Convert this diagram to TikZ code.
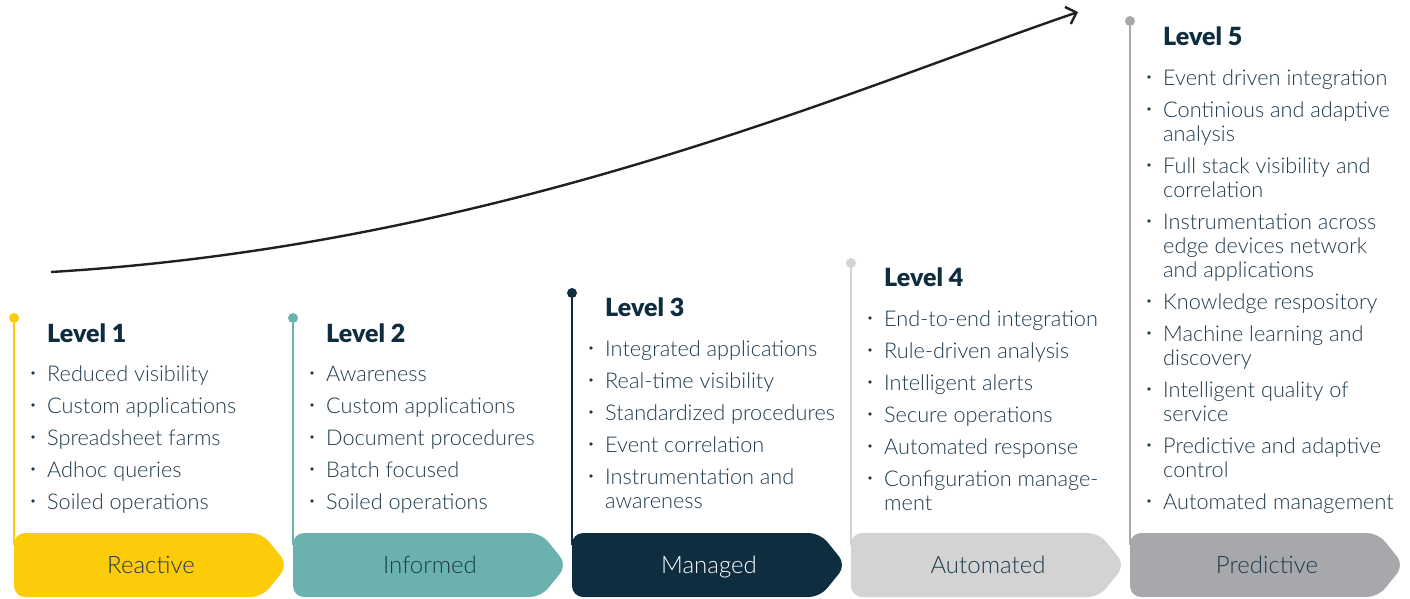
\documentclass[tikz,border=0pt]{standalone}
\usepackage{fontspec}
\setmainfont{Lato Light}[BoldFont=Lato Black]
\usetikzlibrary{arrows.meta}

\definecolor{lvA}{HTML}{FCCB0A}
\definecolor{lvB}{HTML}{6BB1AE}
\definecolor{lvC}{HTML}{0E2D3F}
\definecolor{lvD}{HTML}{D3D3D3}
\definecolor{lvE}{HTML}{A7A8AB}
\definecolor{ink}{HTML}{1E3A4C}
\definecolor{headink}{HTML}{0E2D3F}
\definecolor{arrowink}{HTML}{231F20}

\tikzset{
  itemtext/.style={anchor=base west, inner sep=0pt, text=ink,
    font=\fontsize{21.7}{24}\selectfont},
  headtext/.style={anchor=base west, inner sep=0pt, text=headink,
    font=\fontsize{25}{28}\selectfont\bfseries},
  stagelabel/.style={anchor=base, inner sep=0pt,
    font=\fontsize{24}{28}\selectfont},
  bulletdot/.style={circle, fill=ink, inner sep=0pt, minimum size=3.8pt},
  stem/.style={line width=2pt},
  stemdot/.style={circle, inner sep=0pt, minimum size=10pt},
  growth/.style={line width=2.4pt, draw=arrowink,
    -{Straight Barb[length=9pt,width=18pt]}},
}

% one maturity stage: stem with dot, arrow-shaped tab with its label
% #1 name, #2 left x, #3 dot y, #4 colour, #5 label colour, #6 label
\newcommand\stagetab[6]{%
  \node[stemdot, fill=#4] (#1-dot) at (#2,#3) {};
  \coordinate (#1-foot) at (#2,545);
  \draw[stem, draw=#4] (#1-dot) -- (#1-foot);
  \fill[#4, rounded corners=11pt] (#2,533) -- (#2+248,533) -- (#2+274,565)
    -- (#2+248,597) -- (#2,597) -- cycle;
  \node[stagelabel, text=#5] (#1-tab) at (#2+137,573) {#6};
}

\begin{document}
\begin{tikzpicture}[x=1pt, y=-1pt]
\useasboundingbox (0,0) rectangle (1410,598);

% rising curve over the stages
\coordinate (growth-start) at (51,272);
\coordinate (growth-end) at (1078,12);
\draw[growth] (growth-start) .. controls (500,245) and (850,90) .. (growth-end);

\stagetab{reactive}{14}{318}{lvA}{ink}{Reactive}
\stagetab{informed}{293}{318}{lvB}{ink}{Informed}
\stagetab{managed}{572}{293}{lvC}{white}{Managed}
\stagetab{automated}{851}{263}{lvD}{ink}{Automated}
\stagetab{predictive}{1130}{21}{lvE}{ink}{Predictive}

% headings
\node[headtext] (reactive-head) at (47,342) {Level 1};
\node[headtext] (informed-head) at (326,342) {Level 2};
\node[headtext] (managed-head) at (605,316) {Level 3};
\node[headtext] (automated-head) at (884,286) {Level 4};
\node[headtext] (predictive-head) at (1163,45) {Level 5};

% bulleted lines: y = line centre
\foreach \y/\t [count=\k] in {373/Reduced visibility, 405/Custom applications,
    437/Spreadsheet farms, 469/Adhoc queries, 501/Soiled operations}{
  \node[bulletdot] (reactive-b\k) at (33,\y) {};
  \node[itemtext] (reactive-i\k) at (47,\y+8) {\t};
}
\foreach \y/\t [count=\k] in {373/Awareness, 405/Custom applications,
    437/Document procedures, 469/Batch focused, 501/Soiled operations}{
  \node[bulletdot] (informed-b\k) at (312,\y) {};
  \node[itemtext] (informed-i\k) at (326,\y+8) {\t};
}
\foreach \y/\t [count=\k] in {348/Integrated applications, 380/Real-time visibility,
    412/Standardized procedures, 444/Event correlation, 476/Instrumentation and}{
  \node[bulletdot] (managed-b\k) at (591,\y) {};
  \node[itemtext] (managed-i\k) at (605,\y+8) {\t};
}
\node[itemtext] (managed-c1) at (605,508) {awareness};
\foreach \y/\t [count=\k] in {318/End-to-end integration, 350/Rule-driven analysis,
    382/Intelligent alerts, 414/Secure operations, 446/Automated response,
    478/Configuration manage-}{
  \node[bulletdot] (automated-b\k) at (870,\y) {};
  \node[itemtext] (automated-i\k) at (884,\y+8) {\t};
}
\node[itemtext] (automated-c1) at (884,510) {ment};
\foreach \y/\t [count=\k] in {77/Event driven integration, 109/Continious and adaptive,
    165/Full stack visibility and, 221/Instrumentation across,
    301/Knowledge respository, 333/Machine learning and,
    389/Intelligent quality of, 445/Predictive and adaptive,
    501/Automated management}{
  \node[bulletdot] (predictive-b\k) at (1149,\y) {};
  \node[itemtext] (predictive-i\k) at (1163,\y+8) {\t};
}
% continuation lines of wrapped items
\foreach \y/\t [count=\k] in {133/analysis, 189/correlation, 245/edge devices network,
    269/and applications, 357/discovery, 413/service, 469/control}{
  \node[itemtext] (predictive-c\k) at (1163,\y+8) {\t};
}
\end{tikzpicture}
\end{document}
